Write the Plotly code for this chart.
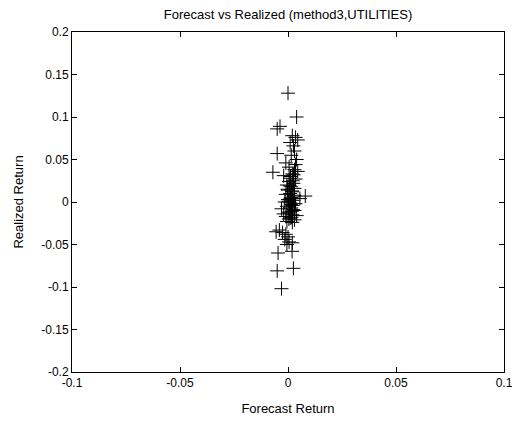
import plotly.graph_objects as go

forecast = [0.0000, 0.0040, -0.0037, -0.0050, 0.0020, 0.0035, 0.0045, 0.0010, 0.0025, -0.0050,
            0.0030, 0.0015, 0.0040, -0.0010, 0.0035, 0.0005, -0.0070, 0.0030, 0.0045, 0.0020,
            -0.0020, 0.0010, 0.0035, 0.0005, 0.0025, -0.0005, 0.0015, 0.0030, 0.0000, 0.0020,
            0.0010, -0.0010, 0.0030, 0.0080, 0.0055, 0.0015, 0.0000, 0.0025, -0.0015, 0.0010,
            0.0035, 0.0020, -0.0005, 0.0015, -0.0030, 0.0030, 0.0005, -0.0020, 0.0020, 0.0040,
            -0.0010, 0.0010, 0.0030, -0.0005, 0.0020, -0.0040, -0.0055, -0.0025, -0.0010, 0.0000,
            -0.0015, 0.0005, -0.0005, 0.0020, -0.0046, 0.0019, -0.0050, 0.0025, -0.0030,
            0.0012, 0.0022, 0.0008, 0.0018, 0.0028, 0.0003, 0.0013, 0.0023, 0.0006, 0.0016,
            -0.0002, 0.0011, 0.0026, 0.0004, 0.0017]
realized = [0.128, 0.100, 0.089, 0.086, 0.078, 0.076, 0.073, 0.070, 0.066, 0.057,
            0.060, 0.055, 0.050, 0.046, 0.044, 0.041, 0.035, 0.038, 0.036, 0.033,
            0.031, 0.028, 0.027, 0.024, 0.022, 0.020, 0.018, 0.016, 0.014, 0.012,
            0.010, 0.009, 0.008, 0.007, 0.004, 0.005, 0.003, 0.002, 0.000, -0.001,
            -0.002, -0.004, -0.005, -0.007, -0.008, -0.010, -0.012, -0.014, -0.015, -0.016,
            -0.017, -0.019, -0.021, -0.023, -0.024, -0.033, -0.035, -0.036, -0.038, -0.041,
            -0.044, -0.047, -0.050, -0.048, -0.060, -0.058, -0.081, -0.078, -0.102,
            0.030, 0.025, 0.019, 0.013, 0.006, 0.001, -0.003, -0.009, -0.013, -0.018,
            0.015, 0.004, 0.032, -0.020, -0.011]

xticks = [-0.1, -0.05, 0, 0.05, 0.1]
xticklabels = ["-0.1", "-0.05", "0", "0.05", "0.1"]
yticks = [-0.2, -0.15, -0.1, -0.05, 0, 0.05, 0.1, 0.15, 0.2]
yticklabels = ["-0.2", "-0.15", "-0.1", "-0.05", "0", "0.05", "0.1", "0.15", "0.2"]

font = "Liberation Sans Narrow, Liberation Sans, Arial, sans-serif"

fig = go.Figure(go.Scatter(
    x=forecast, y=realized, mode="markers",
    marker=dict(symbol="cross-thin", size=10, line=dict(color="black", width=1), color="black"),
))

axis_common = dict(showline=True, linecolor="black", linewidth=1, mirror="ticks",
                   ticks="inside", ticklen=5, tickcolor="black", showgrid=False,
                   zeroline=False, ticklabeloverflow="allow", automargin=False,
                   tickfont=dict(size=12, color="black", family=font))

fig.update_layout(
    width=512, height=422,
    margin=dict(l=72, r=8, t=32, b=50),
    paper_bgcolor="white", plot_bgcolor="white",
    showlegend=False,
    font=dict(family=font, color="black", size=12),
    title=dict(text="Forecast vs Realized (method3,UTILITIES)", x=0.5625, xanchor="center",
               y=0.965, yanchor="middle", font=dict(size=13, family=font, color="black")),
    xaxis=dict(range=[-0.100001, 0.100001], tickvals=xticks, ticktext=xticklabels,
               title=dict(text="Forecast Return", font=dict(size=13, family=font), standoff=14),
               **axis_common),
    yaxis=dict(range=[-0.200001, 0.200001], tickvals=yticks, ticktext=yticklabels,
               title=dict(text="Realized Return", font=dict(size=13, family=font), standoff=14),
               **axis_common),
)

fig.write_html("out.html")
